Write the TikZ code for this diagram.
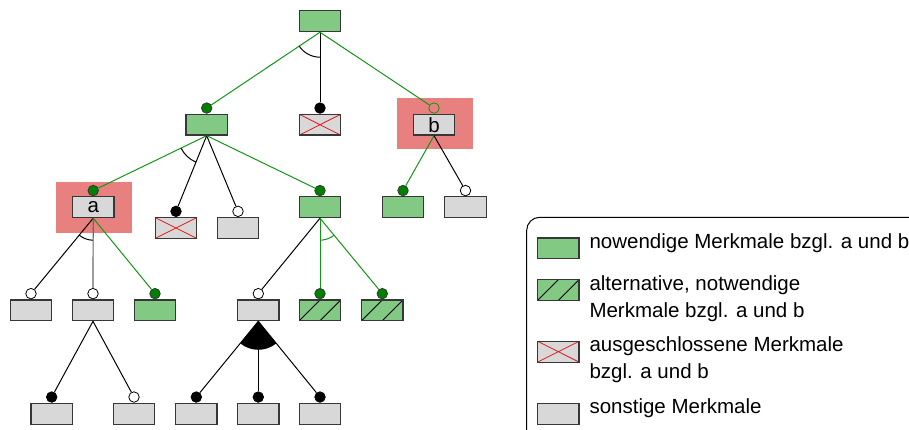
\documentclass[tikz,border=0pt]{standalone}
\usepackage{fontspec}
\setmainfont{Liberation Sans}
\usetikzlibrary{calc}
\definecolor{fgreen}{RGB}{130,201,131}
\definecolor{fgrey}{RGB}{216,216,216}
\definecolor{hlred}{RGB}{232,128,128}
\definecolor{lgreen}{RGB}{20,150,20}
\definecolor{dgreen}{RGB}{0,128,0}
\definecolor{bordergrey}{RGB}{55,55,55}
\definecolor{edgegrey}{RGB}{105,105,105}
\definecolor{xred}{RGB}{225,30,30}
\tikzset{
 feat/.style={draw=bordergrey, line width=1.2pt, minimum width=41.5pt, minimum height=20.8pt, inner sep=0pt, font=\fontsize{20.5}{24}\selectfont},
 fgr/.style={feat, fill=fgreen},
 fgy/.style={feat, fill=fgrey},
 fx/.style={fgy, path picture={\draw[xred, line width=0.8pt] (path picture bounding box.south west) -- (path picture bounding box.north east) (path picture bounding box.north west) -- (path picture bounding box.south east);}},
 fh/.style={fgr, path picture={\draw[black, line width=0.9pt] (path picture bounding box.south west) -- (path picture bounding box.north) (path picture bounding box.south) -- (path picture bounding box.north east);}},
 dotbase/.style={circle, minimum size=10.5pt, inner sep=0pt, line width=0.8pt, anchor=south},
 dotg/.style={dotbase, draw=bordergrey, fill=dgreen},
 dotb/.style={dotbase, draw=black, fill=black},
 dotw/.style={dotbase, draw=black, fill=white},
 doto/.style={dotbase, draw=lgreen, fill=none},
 eg/.style={draw=lgreen, line width=1pt},
 eb/.style={draw=black, line width=1pt},
 egy/.style={draw=edgegrey, line width=1.2pt},
 legtext/.style={anchor=base west, inner sep=0pt, font=\fontsize{20.5}{24}\selectfont},
}
\newcommand\featarc[5]{%
 \draw[#5] let \p1=($(#2)-(#1.south)$), \p2=($(#3)-(#1.south)$), \n1={atan2(\y1,\x1)}, \n2={atan2(\y2,\x2)} in ($(#1.south)+(\n1:#4)$) arc[start angle=\n1, end angle=\n2, radius=#4];}
\newcommand\featsector[4]{%
 \fill let \p1=($(#2)-(#1.south)$), \p2=($(#3)-(#1.south)$), \n1={atan2(\y1,\x1)}, \n2={atan2(\y2,\x2)} in (#1.south) -- ($(#1.south)+(\n1:#4)$) arc[start angle=\n1, end angle=\n2, radius=#4] -- cycle;}
\begin{document}
\begin{tikzpicture}[x=1pt,y=-1pt]
\useasboundingbox (0,0) rectangle (909,430);
\clip (0,0) rectangle (909,430);
% highlights
\fill[hlred] (56,182) rectangle (132,232.7);
\fill[hlred] (397,98.3) rectangle (472.7,148.7);
% features
\node[fgr] (root) at (320,21.2) {};
\node[fgr] (n1) at (206.7,124.7) {};
\node[fx]  (x1) at (320,124.7) {};
\node[fgy] (b)  at (434,124.7) {b};
\node[fgy] (a)  at (93.2,207.2) {a};
\node[fx]  (x2) at (176,228) {};
\node[fgy] (g1) at (238,228) {};
\node[fgr] (n2) at (320,207.2) {};
\node[fgr] (n3) at (403,207.2) {};
\node[fgy] (g2) at (465.5,207.2) {};
\node[fgy] (g3) at (31,310.3) {};
\node[fgy] (g4) at (93,310.3) {};
\node[fgr] (n4) at (155,310.3) {};
\node[fgy] (g5) at (258.3,310.3) {};
\node[fh]  (h1) at (320,310.3) {};
\node[fh]  (h2) at (382.3,310.3) {};
\node[fgy] (g6) at (51.7,413.7) {};
\node[fgy] (g7) at (134,413.7) {};
\node[fgy] (g8) at (196.3,413.7) {};
\node[fgy] (g9) at (258.3,413.7) {};
\node[fgy] (g10) at (320,413.7) {};
% circles
\node[dotg] (c-n1) at (n1.north) {};
\node[dotb] (c-x1) at (x1.north) {};
\node[doto] (c-b)  at (b.north) {};
\node[dotg] (c-a)  at (a.north) {};
\node[dotb] (c-x2) at (x2.north) {};
\node[dotw] (c-g1) at (g1.north) {};
\node[dotg] (c-n2) at (n2.north) {};
\node[dotg] (c-n3) at (n3.north) {};
\node[dotw] (c-g2) at (g2.north) {};
\node[dotw] (c-g3) at (g3.north) {};
\node[dotw] (c-g4) at (g4.north) {};
\node[dotg] (c-n4) at (n4.north) {};
\node[dotw] (c-g5) at (g5.north) {};
\node[dotg] (c-h1) at (h1.north) {};
\node[dotg] (c-h2) at (h2.north) {};
\node[dotb] (c-g6) at (g6.north) {};
\node[dotw] (c-g7) at (g7.north) {};
\node[dotb] (c-g8) at (g8.north) {};
\node[dotb] (c-g9) at (g9.north) {};
\node[dotb] (c-g10) at (g10.north) {};
% edges
\draw[eg] (root.south) -- (c-n1);
\draw[eb] (root.south) -- (c-x1);
\draw[eg] (root.south) -- (c-b);
\draw[eg] (n1.south) -- (c-a);
\draw[eb] (n1.south) -- (c-x2);
\draw[eb] (n1.south) -- (c-g1);
\draw[eg] (n1.south) -- (c-n2);
\draw[eg] (b.south) -- (c-n3);
\draw[eb] (b.south) -- (c-g2);
\draw[eb] (a.south) -- (c-g3);
\draw[egy] (a.south) -- (c-g4);
\draw[eg] (a.south) -- (c-n4);
\draw[eb] (n2.south) -- (c-g5);
\draw[eg] (n2.south) -- (c-h1);
\draw[eg] (n2.south) -- (c-h2);
\draw[eb] (g4.south) -- (c-g6);
\draw[eb] (g4.south) -- (c-g7);
\draw[eb] (g5.south) -- (c-g8);
\draw[eb] (g5.south) -- (c-g9);
\draw[eb] (g5.south) -- (c-g10);
% group arcs
\featarc{root}{c-n1}{c-x1}{25pt}{black, line width=1pt}
\featarc{n1}{c-a}{c-x2}{28.5pt}{black, line width=1pt}
\featarc{a}{c-g3}{c-g4}{22pt}{black, line width=1pt}
\featarc{n2}{c-h1}{c-h2}{22pt}{lgreen, line width=1pt}
\featsector{g5}{c-g8}{c-g10}{28.5pt}
% legend
\draw[black, line width=1pt, rounded corners=13pt] (526.7,217.3) rectangle (980,480);
\node[fgr] (l1) at (558.3,248.3) {};
\node[fh]  (l2) at (558.3,290) {};
\node[fx]  (l3) at (558.3,351.7) {};
\node[fgy] (l4) at (558.3,414) {};
\node[legtext] (t1)  at (589.3,248.3) {nowendige Merkmale bzgl. a und b};
\node[legtext] (t2a) at (589.3,290.5) {alternative, notwendige};
\node[legtext] (t2b) at (589.3,317.5) {Merkmale bzgl. a und b};
\node[legtext] (t3a) at (589.3,351.7) {ausgeschlossene Merkmale};
\node[legtext] (t3b) at (589.3,378.3) {bzgl. a und b};
\node[legtext] (t4)  at (589.3,413.3) {sonstige Merkmale};
\end{tikzpicture}
\end{document}
